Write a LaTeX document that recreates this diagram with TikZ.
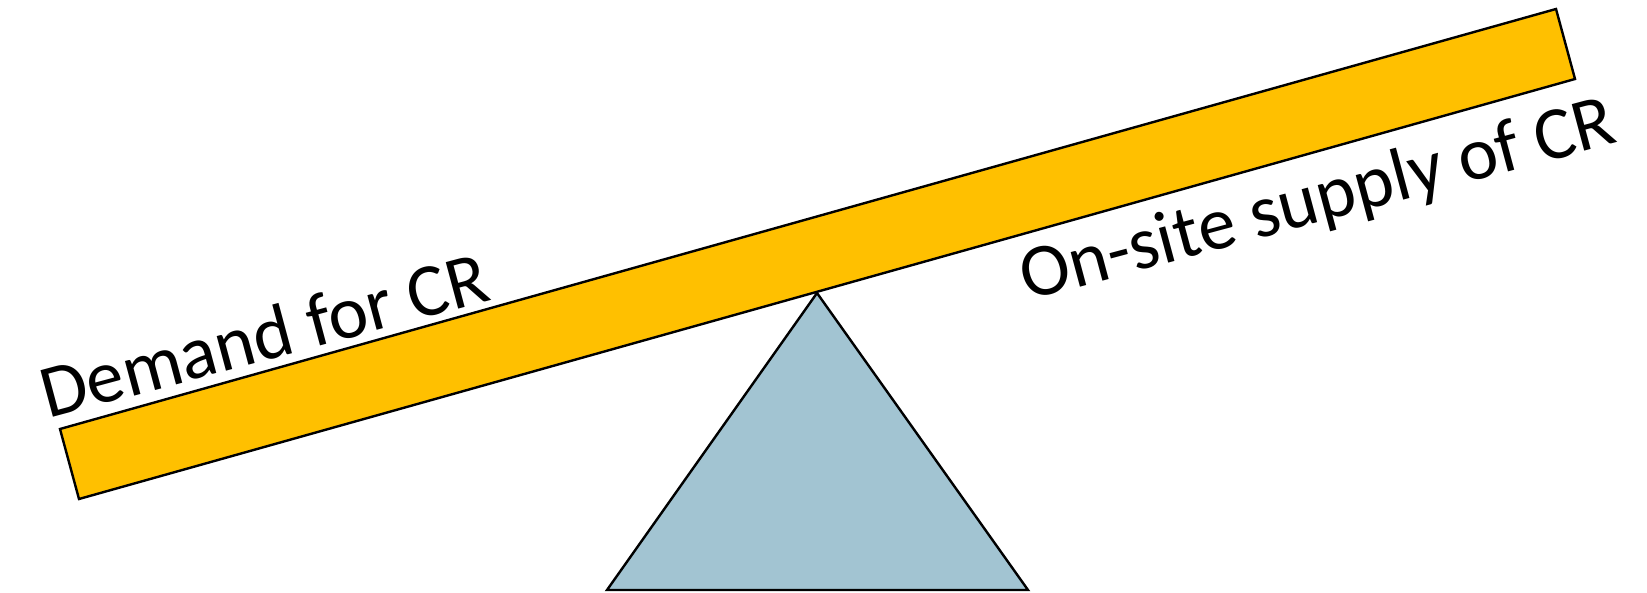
\documentclass[tikz,border=0pt]{standalone}
\usepackage{fontspec}
\setmainfont{Carlito}
\usepackage{xcolor}
\usepackage{tikz}
\usetikzlibrary{positioning}

\definecolor{plankgold}{HTML}{FFC000}
\definecolor{pivotblue}{HTML}{A2C4D2}

\begin{document}
\begin{tikzpicture}[
  x=0.5pt, y=-0.5pt,
  plank/.style={fill=plankgold, draw=black, line width=1.2pt, line join=miter},
  pivot/.style={fill=pivotblue, draw=black, line width=1.2pt},
  side/.style={anchor=base west, inner sep=0pt, rotate=15,
               font=\fontsize{37.5}{45}\selectfont},
]
  \useasboundingbox (0,0) rectangle (1647,593);

  % beam
  \coordinate (BL) at (79,499);
  \coordinate (TL) at (60,429);
  \coordinate (TR) at (1556,9);
  \coordinate (BR) at (1575,79);
  \draw[plank] (BL) -- (TL) -- (TR) -- (BR) -- cycle;

  % fulcrum
  \coordinate (apex) at (817,293);
  \coordinate (baseL) at (607,590);
  \coordinate (baseR) at (1028,590);
  \draw[pivot] (apex) -- (baseL) -- (baseR) -- cycle;

  % labels
  \node[side] (demand) at (48,419) {Demand for CR};
  \node[side] (supply) at (1027,301) {On-site supply of CR};
\end{tikzpicture}
\end{document}
